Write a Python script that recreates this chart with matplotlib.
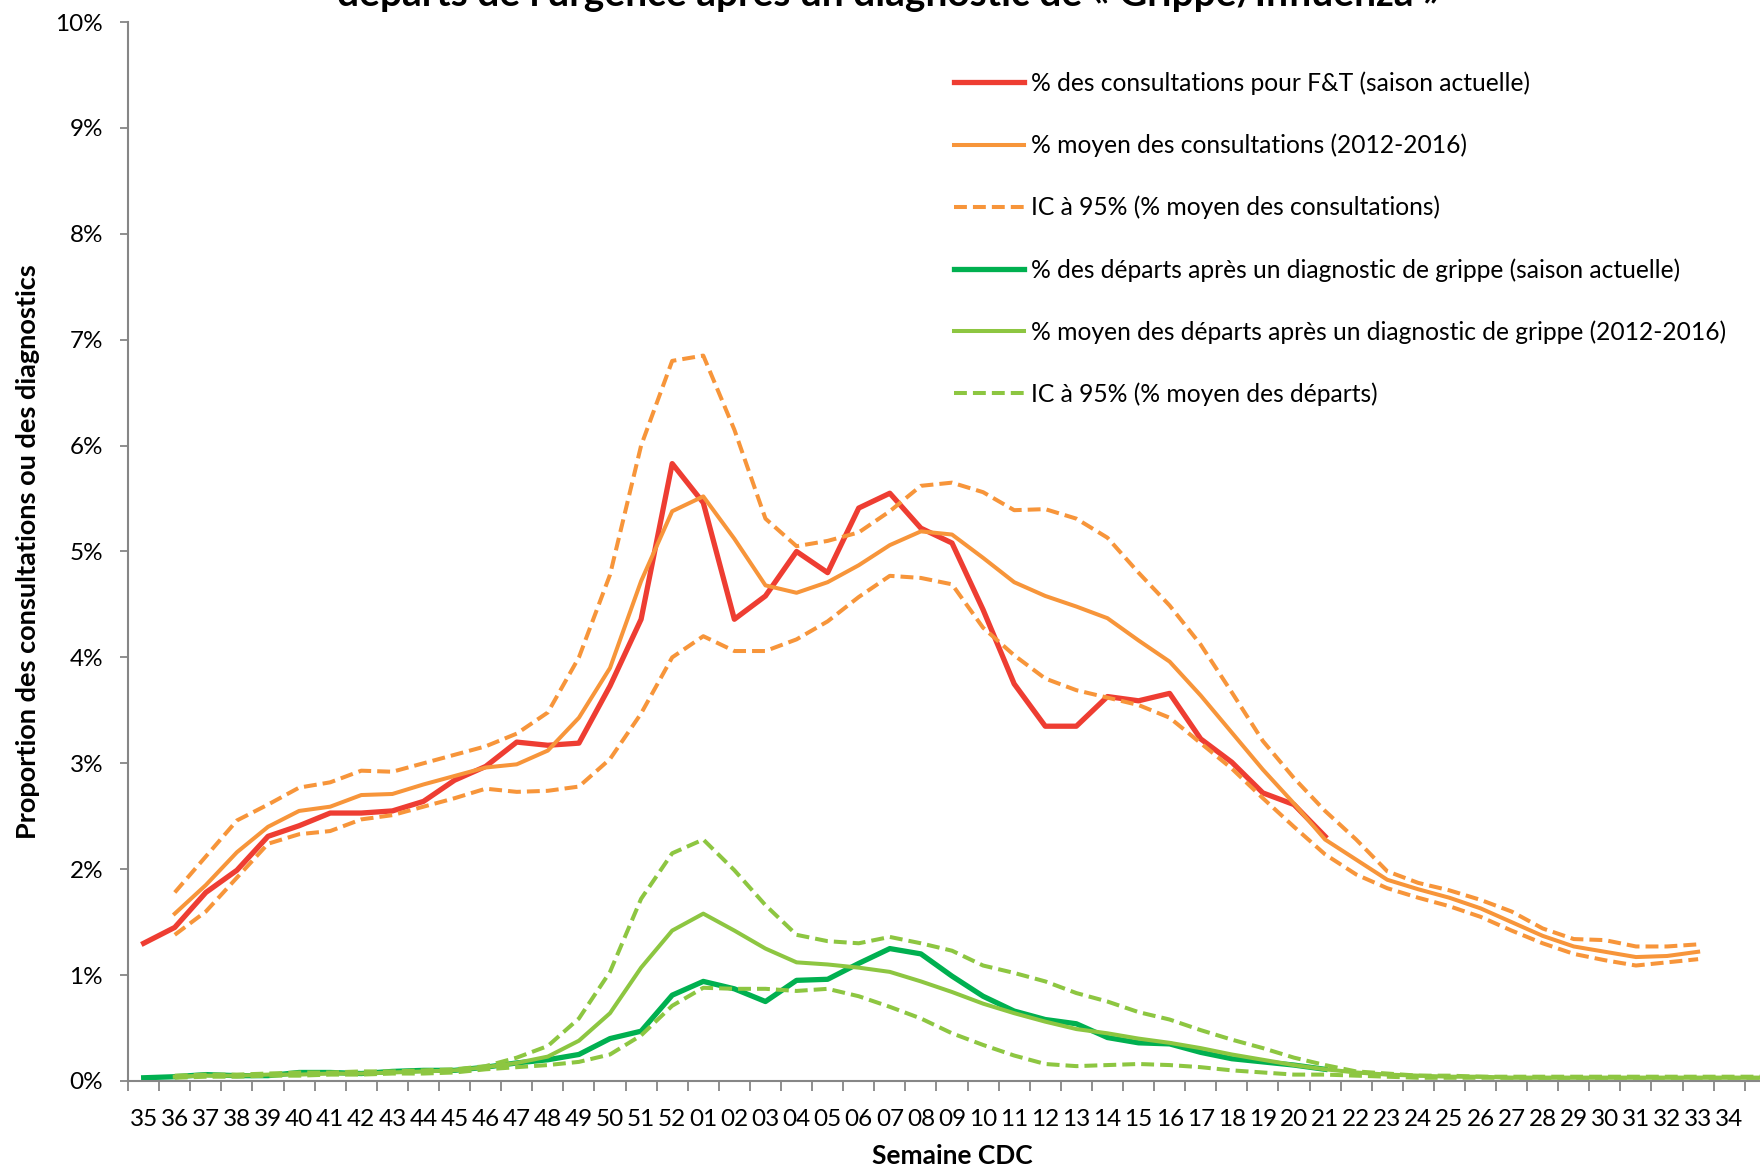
import numpy as np
import matplotlib
matplotlib.use("Agg")
import matplotlib.pyplot as plt
from matplotlib.ticker import FixedLocator, FuncFormatter

plt.rcParams['font.family'] = ['Lato', 'DejaVu Sans']

# CDC weeks of the season (35 -> 34, then the next 35 which falls off the right edge)
weeks = [str(w) for w in range(35, 53)] + ['%02d' % w for w in range(1, 35)] + ['35']

# % consultations for F&T, current season (starts week 35)
ft_current = [1.30, 1.45, 1.78, 1.99, 2.31, 2.41, 2.53, 2.53, 2.55, 2.64, 2.84, 2.97,
              3.20, 3.17, 3.19, 3.73, 4.36, 5.83, 5.46, 4.36, 4.58, 5.00, 4.80, 5.41,
              5.55, 5.22, 5.08, 4.45, 3.75, 3.35, 3.35, 3.63, 3.59, 3.66, 3.23, 3.01,
              2.72, 2.61, 2.31]
# mean % consultations 2012-2016 and 95% CI (start week 36)
ft_mean = [1.58, 1.85, 2.16, 2.40, 2.55, 2.59, 2.70, 2.71, 2.80, 2.88, 2.96, 2.99,
           3.12, 3.43, 3.90, 4.72, 5.38, 5.52, 5.12, 4.68, 4.61, 4.71, 4.87, 5.06,
           5.19, 5.16, 4.94, 4.71, 4.58, 4.48, 4.37, 4.16, 3.96, 3.64, 3.29, 2.94,
           2.62, 2.28, 2.09, 1.90, 1.81, 1.73, 1.63, 1.50, 1.37, 1.27, 1.22, 1.17,
           1.18, 1.22]
ft_hi = [1.78, 2.12, 2.46, 2.61, 2.77, 2.82, 2.93, 2.92, 3.00, 3.08, 3.16, 3.28,
         3.48, 4.00, 4.78, 6.00, 6.80, 6.85, 6.15, 5.31, 5.05, 5.10, 5.18, 5.38,
         5.62, 5.65, 5.56, 5.39, 5.40, 5.31, 5.13, 4.80, 4.49, 4.12, 3.67, 3.21,
         2.86, 2.55, 2.28, 1.98, 1.87, 1.80, 1.71, 1.60, 1.44, 1.34, 1.33, 1.27,
         1.27, 1.29]
ft_lo = [1.38, 1.60, 1.92, 2.24, 2.33, 2.36, 2.47, 2.51, 2.59, 2.67, 2.76, 2.73,
         2.74, 2.78, 3.04, 3.47, 4.00, 4.20, 4.06, 4.06, 4.17, 4.34, 4.57, 4.77,
         4.75, 4.69, 4.28, 4.02, 3.80, 3.69, 3.62, 3.55, 3.43, 3.19, 2.95, 2.67,
         2.40, 2.14, 1.95, 1.82, 1.73, 1.65, 1.55, 1.42, 1.30, 1.20, 1.14, 1.09,
         1.12, 1.15]

# % departures after a flu diagnosis, current season (starts week 35)
flu_current = [0.03, 0.04, 0.06, 0.05, 0.05, 0.08, 0.08, 0.07, 0.09, 0.10, 0.10, 0.13,
               0.17, 0.20, 0.25, 0.40, 0.47, 0.81, 0.94, 0.87, 0.75, 0.95, 0.96, 1.11,
               1.25, 1.20, 0.99, 0.80, 0.66, 0.58, 0.54, 0.41, 0.36, 0.35, 0.27, 0.21,
               0.18, 0.15, 0.11]
# mean % departures 2012-2016 and 95% CI (start week 36)
flu_mean = [0.04, 0.05, 0.05, 0.06, 0.06, 0.07, 0.07, 0.08, 0.09, 0.10, 0.13, 0.17,
            0.23, 0.38, 0.64, 1.07, 1.42, 1.58, 1.42, 1.25, 1.12, 1.10, 1.07, 1.03,
            0.94, 0.84, 0.73, 0.64, 0.56, 0.49, 0.45, 0.40, 0.36, 0.31, 0.25, 0.20,
            0.15, 0.11, 0.08, 0.06, 0.05, 0.04, 0.04, 0.03, 0.03, 0.03, 0.03, 0.03,
            0.03, 0.03, 0.03, 0.03]
flu_hi = [0.05, 0.06, 0.06, 0.07, 0.08, 0.08, 0.09, 0.09, 0.10, 0.11, 0.14, 0.22,
          0.33, 0.59, 1.03, 1.72, 2.15, 2.28, 1.99, 1.66, 1.38, 1.32, 1.30, 1.36,
          1.30, 1.23, 1.09, 1.02, 0.94, 0.83, 0.75, 0.65, 0.58, 0.48, 0.39, 0.31,
          0.22, 0.15, 0.09, 0.07, 0.05, 0.05, 0.04, 0.04, 0.04, 0.04, 0.04, 0.04,
          0.04, 0.04, 0.04, 0.04]
flu_lo = [0.03, 0.04, 0.04, 0.05, 0.05, 0.06, 0.06, 0.07, 0.07, 0.08, 0.11, 0.13,
          0.15, 0.18, 0.25, 0.43, 0.71, 0.88, 0.87, 0.87, 0.85, 0.87, 0.80, 0.70,
          0.59, 0.45, 0.34, 0.24, 0.16, 0.14, 0.15, 0.16, 0.15, 0.13, 0.10, 0.08,
          0.06, 0.06, 0.05, 0.04, 0.03, 0.03, 0.03, 0.03, 0.03, 0.03, 0.03, 0.03,
          0.03, 0.03, 0.03, 0.03]

RED = '#EE3D32'
ORANGE = '#F7953A'
DKGREEN = '#00B050'
LTGREEN = '#8DC641'


def series(values, start):
    # place a series on the full season axis, starting at a given week label
    out = np.full(len(weeks), np.nan)
    i0 = weeks.index(start)
    out[i0:i0 + len(values)] = values
    return out


x = np.arange(len(weeks))

fig = plt.figure(figsize=(17.6, 11.71), dpi=100)
ax = fig.add_axes([0.0728, 0.0769, 0.9272, 0.9043])

dash = (3.2, 1.5)
thick, thin = 3.8, 2.9
ax.plot(x, series(ft_current, '35'), color=RED, lw=thick,
        label='% des consultations pour F&T (saison actuelle)')
ax.plot(x, series(ft_mean, '36'), color=ORANGE, lw=thin,
        label='% moyen des consultations (2012-2016)')
ax.plot(x, series(ft_hi, '36'), color=ORANGE, lw=thin, ls=(0, dash),
        label='IC à 95% (% moyen des consultations)')
ax.plot(x, series(ft_lo, '36'), color=ORANGE, lw=thin, ls=(0, dash))
ax.plot(x, series(flu_current, '35'), color=DKGREEN, lw=thick,
        label='% des départs après un diagnostic de grippe (saison actuelle)')
ax.plot(x, series(flu_mean, '36'), color=LTGREEN, lw=thin,
        label='% moyen des départs après un diagnostic de grippe (2012-2016)')
ax.plot(x, series(flu_hi, '36'), color=LTGREEN, lw=thin, ls=(0, dash),
        label='IC à 95% (% moyen des départs)')
ax.plot(x, series(flu_lo, '36'), color=LTGREEN, lw=thin, ls=(0, dash))

ax.set_xlim(-0.5, 51.99)
ax.set_ylim(0, 10)

for side in ['top', 'right']:
    ax.spines[side].set_visible(False)
for side in ['left', 'bottom']:
    ax.spines[side].set_color('#868686')
    ax.spines[side].set_linewidth(1.5)

ax.set_yticks(np.arange(0, 11, 1))
ax.yaxis.set_major_formatter(FuncFormatter(lambda v, p: '%d%%' % v))
ax.tick_params(axis='y', length=6, width=1.3, color='#868686', labelsize=17.5, pad=12)

# only the 52 weeks inside the plot get a label
ax.set_xticks(x[:52])
ax.set_xticklabels(weeks[:52])
ax.xaxis.set_minor_locator(FixedLocator(np.arange(-0.5, 52, 1.0)))
ax.tick_params(axis='x', which='major', length=0, labelsize=17.5, pad=20)
ax.tick_params(axis='x', which='minor', length=7, width=1.3, color='#868686')

fig.text(0.541, 0.0128, 'Semaine CDC', ha='center', va='center',
         fontsize=19, fontweight='bold')
fig.text(0.016, 0.529, 'Proportion des consultations ou des diagnostics',
         ha='center', va='center', rotation=90, fontsize=19.5, fontweight='bold')
fig.text(0.505, 1 - 6 / 1171, "départs de l'urgence après un diagnostic de « Grippe/Influenza »",
         ha='center', va='baseline', fontsize=28, fontweight='bold')

leg = ax.legend(loc='upper left', bbox_to_anchor=(0.542, 0.939),
                bbox_transform=fig.transFigure, frameon=False, fontsize=17.7,
                handlelength=2.85, handletextpad=0.3, labelspacing=1.57,
                borderpad=0, borderaxespad=0)

fig.savefig('out.png', dpi=100)
